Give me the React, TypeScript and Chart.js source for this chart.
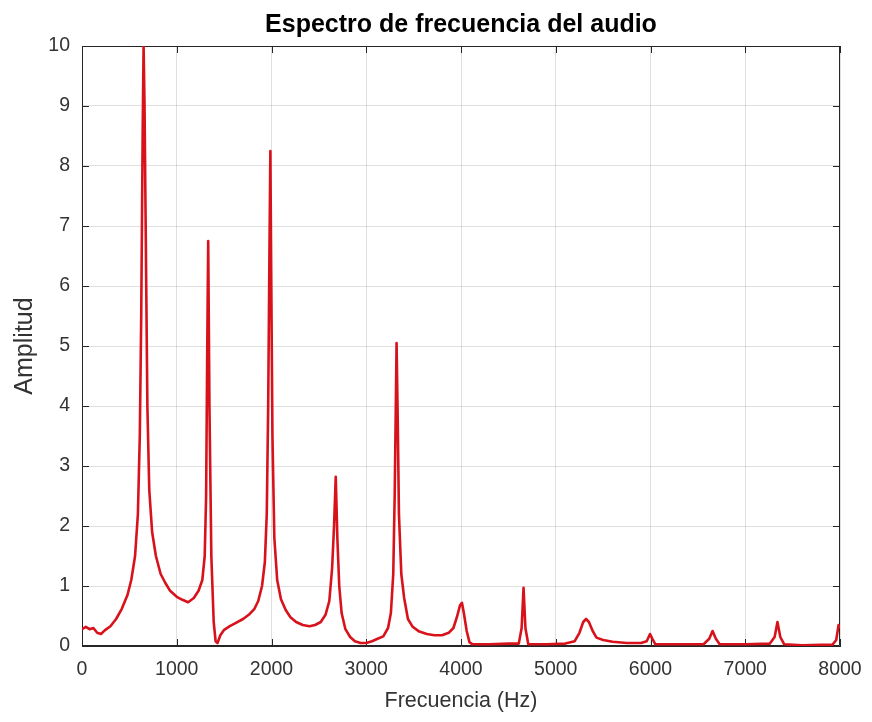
import React, { useEffect, useRef } from "react";
import { Chart, registerables } from "chart.js";

Chart.register(...registerables);

const titleText = "Espectro de frecuencia del audio";
const xTitle = "Frecuencia (Hz)";
const yTitle = "Amplitud";

const xTicks = [0, 1000, 2000, 3000, 4000, 5000, 6000, 7000, 8000];
const yTicks = [0, 1, 2, 3, 4, 5, 6, 7, 8, 9, 10];

const freq = [
  0, 40, 80, 120, 160, 200, 240, 300, 360, 420, 480, 520, 560, 590, 610, 625, 640, 650, 660, 675,
  690, 710, 740, 780, 830, 880, 930, 1000, 1060, 1120, 1180, 1230, 1270, 1295, 1310, 1322, 1332, 1345, 1365, 1390,
  1410, 1430, 1460, 1500, 1560, 1620, 1700, 1760, 1820, 1860, 1900, 1930, 1950, 1965, 1978, 1988, 1998, 2010, 2030, 2060,
  2100, 2150, 2200, 2260, 2330, 2400, 2460, 2520, 2570, 2610, 2640, 2660, 2678, 2695, 2715, 2740, 2780, 2830, 2880, 2940,
  3000, 3060, 3120, 3180, 3230, 3260, 3285, 3300, 3312, 3320, 3332, 3345, 3370, 3400, 3440, 3490, 3560, 3640, 3720, 3800,
  3870, 3920, 3960, 3990, 4010, 4030, 4060, 4090, 4120, 4300, 4500, 4610, 4640, 4660, 4680, 4710, 4900, 5100, 5200, 5250,
  5290, 5320, 5350, 5390, 5430, 5500, 5600, 5750, 5900, 5960, 5995, 6020, 6050, 6300, 6560, 6620, 6655, 6690, 6730, 7000,
  7260, 7310, 7340, 7370, 7410, 7600, 7800, 7920, 7960, 7985, 8000,
];

const amp = [
  0.28, 0.32, 0.28, 0.3, 0.22, 0.2, 0.26, 0.33, 0.45, 0.62, 0.85, 1.1, 1.5, 2.2, 3.5, 5.5, 8.5, 10.0, 9.0, 6.5,
  4.0, 2.6, 1.9, 1.5, 1.2, 1.05, 0.92, 0.82, 0.77, 0.73, 0.8, 0.92, 1.1, 1.5, 2.5, 5.0, 6.75, 4.0, 1.5, 0.4,
  0.08, 0.05, 0.18, 0.27, 0.33, 0.38, 0.45, 0.52, 0.62, 0.75, 1.0, 1.4, 2.2, 4.0, 6.5, 8.25, 6.0, 3.5, 1.8, 1.1,
  0.78, 0.6, 0.48, 0.4, 0.35, 0.33, 0.35, 0.4, 0.52, 0.75, 1.3, 2.0, 2.82, 1.8, 1.0, 0.55, 0.28, 0.15, 0.08, 0.05,
  0.05, 0.08, 0.12, 0.16, 0.3, 0.55, 1.2, 2.5, 4.0, 5.05, 3.8, 2.2, 1.2, 0.8, 0.45, 0.32, 0.24, 0.2, 0.18, 0.18,
  0.22, 0.3, 0.5, 0.68, 0.72, 0.55, 0.25, 0.06, 0.03, 0.03, 0.04, 0.04, 0.3, 0.97, 0.3, 0.03, 0.03, 0.04, 0.08, 0.22,
  0.4, 0.45, 0.4, 0.25, 0.14, 0.1, 0.07, 0.05, 0.05, 0.08, 0.2, 0.12, 0.03, 0.03, 0.03, 0.12, 0.25, 0.12, 0.03, 0.03,
  0.04, 0.15, 0.4, 0.15, 0.03, 0.01, 0.02, 0.02, 0.1, 0.35, 0.3,
];

const AXIS = "#262626";
const GRID = "rgba(38,38,38,0.15)";
const FONT = "'Liberation Sans', Arial, Helvetica, sans-serif";

const boxPlugin = {
  id: "matlabBox",
  beforeDatasetsDraw(chart: any) {
    const { ctx, chartArea: a, scales } = chart;
    const x = scales.x;
    const y = scales.y;
    const len = 7;
    ctx.save();
    ctx.strokeStyle = AXIS;
    ctx.lineWidth = 1;
    ctx.beginPath();
    ctx.rect(a.left + 0.5, a.top + 0.5, a.right - a.left - 1, a.bottom - a.top - 1);
    xTicks.forEach((v) => {
      const px = Math.round(x.getPixelForValue(v)) + 0.5;
      ctx.moveTo(px, a.bottom);
      ctx.lineTo(px, a.bottom - len);
      ctx.moveTo(px, a.top);
      ctx.lineTo(px, a.top + len);
    });
    yTicks.forEach((v) => {
      const py = Math.round(y.getPixelForValue(v)) + 0.5;
      ctx.moveTo(a.left, py);
      ctx.lineTo(a.left + len, py);
      ctx.moveTo(a.right, py);
      ctx.lineTo(a.right - len, py);
    });
    ctx.stroke();
    ctx.restore();
  },
};

export default function App() {
  const ref = useRef<HTMLCanvasElement | null>(null);

  useEffect(() => {
    if (!ref.current) return;
    const chart = new Chart(ref.current, {
      type: "line",
      data: {
        datasets: [
          {
            data: freq.map((f, i) => ({ x: f, y: amp[i] })),
            borderColor: "#d8121b",
            borderWidth: 2.6,
            pointRadius: 0,
            tension: 0,
            fill: false,
            borderJoinStyle: "round",
          },
        ],
      },
      plugins: [boxPlugin],
      options: {
        animation: false,
        responsive: true,
        maintainAspectRatio: false,
        layout: { padding: { left: 0, right: 32, top: 0, bottom: 0 } },
        plugins: {
          legend: { display: false },
          tooltip: { enabled: false },
          title: {
            display: true,
            text: titleText,
            fullSize: false,
            color: "#000",
            font: { family: FONT, size: 25, weight: "bold" },
            padding: { top: 10, bottom: 6 },
          },
        },
        scales: {
          x: {
            type: "linear",
            min: 0,
            max: 8000,
            afterFit: (s: any) => {
              s.height = 76;
              s.paddingRight = 0;
              s.paddingLeft = 0;
            },
            afterBuildTicks: (s: any) => {
              s.ticks = xTicks.map((v) => ({ value: v }));
            },
            grid: { color: GRID, lineWidth: 1, drawTicks: false },
            border: { display: true, color: AXIS, width: 1 },
            ticks: {
              color: "#333",
              font: { family: FONT, size: 19.5 },
              padding: 12,
              maxRotation: 0,
              autoSkip: false,
              callback: (v: any) => String(v),
            },
            title: {
              display: true,
              text: xTitle,
              color: "#333",
              font: { family: FONT, size: 21.5 },
              padding: { top: 0, bottom: 8 },
            },
          },
          y: {
            type: "linear",
            min: 0,
            max: 10,
            afterFit: (s: any) => {
              s.width = 82;
            },
            afterBuildTicks: (s: any) => {
              s.ticks = yTicks.map((v) => ({ value: v }));
            },
            grid: { color: GRID, lineWidth: 1, drawTicks: false },
            border: { display: true, color: AXIS, width: 1 },
            ticks: {
              color: "#333",
              font: { family: FONT, size: 19.5 },
              padding: 12,
              autoSkip: false,
              callback: (v: any) => String(v),
            },
            title: {
              display: true,
              text: yTitle,
              color: "#333",
              font: { family: FONT, size: 25 },
              padding: { top: 10, bottom: 0 },
            },
          },
        },
      },
    } as any);
    return () => chart.destroy();
  }, []);

  return (
    <div style={{ position: "fixed", left: 0, top: 0, width: 872, height: 722, background: "#fff" }}>
      <canvas ref={ref} />
    </div>
  );
}
